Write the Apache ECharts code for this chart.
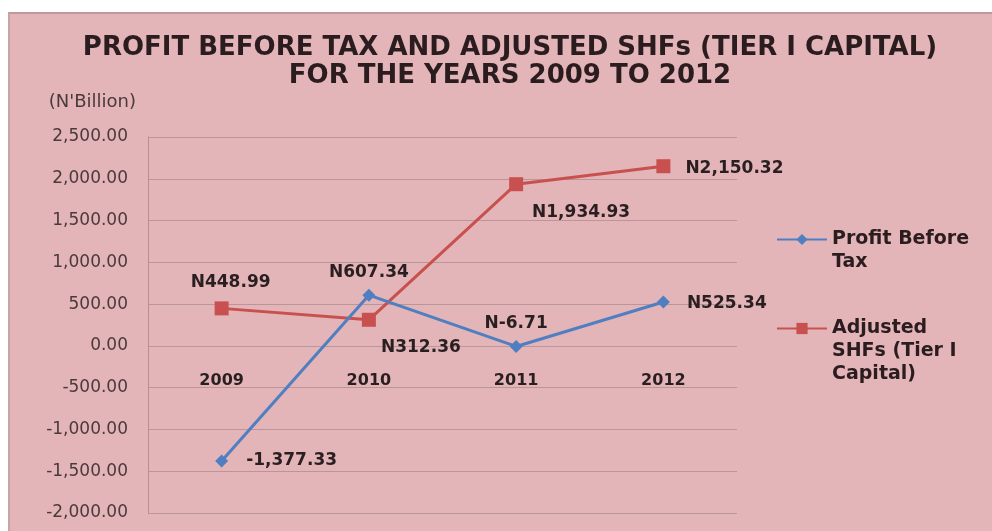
<!DOCTYPE html>
<html>
<head>
<meta charset="utf-8">
<script src="https://cdn.jsdelivr.net/npm/echarts@6/dist/echarts.min.js"></script>
<style>
  html, body { margin: 0; padding: 0; background: #ffffff; }
  #panel {
    position: absolute; left: 8px; top: 12px; width: 984px; height: 519px;
    background: #e3b4b8;
    border-top: 2px solid #bf9a9d; border-left: 2px solid #c9a3a6;
    box-sizing: border-box;
  }
  #chart { position: absolute; left: 0; top: 0; width: 992px; height: 531px; }
</style>
</head>
<body>
<div id="panel"></div>
<div id="chart"></div>
<script>
// Years on the category axis
const years = ['2009', '2010', '2011', '2012'];

// N'Billion
const profitBeforeTax = [-1377.33, 607.34, -6.71, 525.34];
const adjustedShf = [448.99, 312.36, 1934.93, 2150.32];

// Currency prefix shown in front of each data label
const profitPrefix = ['', 'N', 'N', 'N'];
const shfPrefix = ['N', 'N', 'N', 'N'];

// Value axis ticks
const yMin = -2000;
const yMax = 2500;
const yStep = 500;

const seriesNames = ['Profit Before Tax', 'Adjusted SHFs (Tier I Capital)'];
// leading blank lines keep each legend marker level with the first line of its name
const legendLabels = {
  'Profit Before Tax': '\nProfit Before\nTax',
  'Adjusted SHFs (Tier I Capital)': '\n\nAdjusted\nSHFs (Tier I\nCapital)'
};

const fmt = v => v.toLocaleString('en-US', { minimumFractionDigits: 2, maximumFractionDigits: 2 });

const labelFont = { fontFamily: 'DejaVu Sans', fontWeight: 'bold', fontSize: 17, color: '#2a1f20' };

// per-point label placement
const profitLabelPos = [
  { position: 'right', distance: 18 },
  { position: 'top', distance: 8 },
  { position: 'top', distance: 8 },
  { position: 'right', distance: 17, offset: [0, 2] }
];
const shfLabelPos = [
  { position: 'top', distance: 10, offset: [9, 0] },
  { position: 'bottom', distance: 12, offset: [52, 0] },
  { position: 'bottom', distance: 13, offset: [65, 0] },
  { position: 'right', distance: 15, offset: [0, 2] }
];

function buildData(values, prefixes, places) {
  return values.map((v, i) => ({
    value: v,
    label: Object.assign({
      show: true,
      formatter: prefixes[i] + fmt(v)
    }, labelFont, places[i])
  }));
}

// plot box
const gridTop = 137, gridBottom = 18;
const plotHeight = 531 - gridTop - gridBottom;
// the category axis sits on the value-axis zero line
const zeroOffset = -Math.round((0 - yMin) / (yMax - yMin) * plotHeight);

const legendLH = 23;

const chart = echarts.init(document.getElementById('chart'), null, { renderer: 'canvas' });

chart.setOption({
  backgroundColor: 'transparent',
  animation: false,
  title: {
    text: 'PROFIT BEFORE TAX AND ADJUSTED SHFs (TIER I CAPITAL)\nFOR THE YEARS 2009 TO 2012',
    left: 505, top: 29, textAlign: 'center',
    textStyle: { fontFamily: 'DejaVu Sans', fontWeight: 'bold', fontSize: 26, lineHeight: 28, color: '#2b1d1f' }
  },
  legend: {
    orient: 'vertical',
    left: 771, top: 200,
    itemWidth: 50, itemHeight: 14, itemGap: -3,
    data: seriesNames,
    formatter: name => legendLabels[name],
    textStyle: { fontFamily: 'DejaVu Sans', fontWeight: 'bold', fontSize: 19, lineHeight: legendLH, color: '#2b1d1f' }
  },
  grid: { left: 148, right: 255, top: gridTop, bottom: gridBottom, containLabel: false, outerBoundsMode: 'none' },
  xAxis: {
    type: 'category',
    data: years,
    boundaryGap: true,
    offset: zeroOffset,
    axisLine: { show: false, onZero: false },
    axisTick: { show: false },
    axisLabel: { margin: 27, fontFamily: 'DejaVu Sans', fontWeight: 'bold', fontSize: 16, color: '#2a1f20' }
  },
  yAxis: {
    type: 'value',
    min: yMin, max: yMax, interval: yStep,
    name: "(N'Billion)",
    nameLocation: 'end',
    nameGap: 26,
    nameTextStyle: { fontFamily: 'DejaVu Sans', fontSize: 18, color: '#4a3a3c', align: 'right', padding: [0, 12, 0, 0] },
    axisLine: { show: true, lineStyle: { color: '#b59092' } },
    axisTick: { show: false },
    splitLine: { lineStyle: { color: '#bb9699', width: 1 } },
    axisLabel: {
      margin: 20,
      fontFamily: 'DejaVu Sans', fontSize: 17, color: '#4a3a3c',
      formatter: v => fmt(v)
    }
  },
  series: [
    {
      name: seriesNames[0],
      type: 'line',
      data: buildData(profitBeforeTax, profitPrefix, profitLabelPos),
      symbol: 'diamond', symbolSize: 13,
      lineStyle: { color: '#4f7fc0', width: 3 },
      itemStyle: { color: '#4f7fc0' },
      z: 3
    },
    {
      name: seriesNames[1],
      type: 'line',
      data: buildData(adjustedShf, shfPrefix, shfLabelPos),
      symbol: 'rect', symbolSize: 14,
      lineStyle: { color: '#c8504e', width: 3 },
      itemStyle: { color: '#c8504e' },
      z: 2
    }
  ]
});
</script>
</body>
</html>
